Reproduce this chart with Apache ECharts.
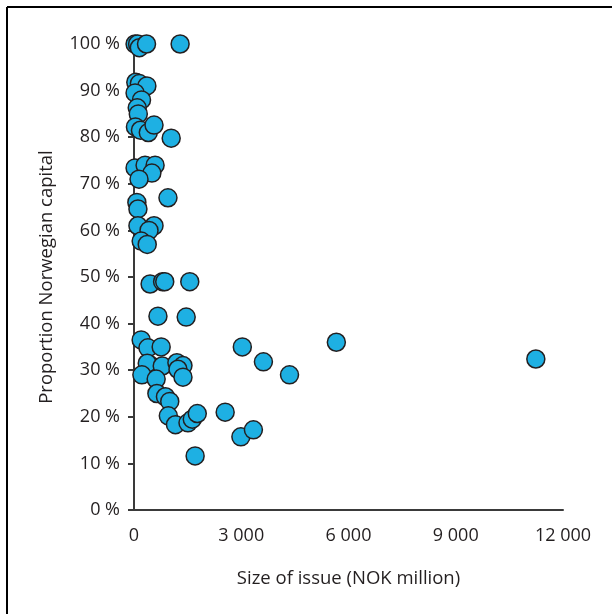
<!DOCTYPE html>
<html>
<head>
<meta charset="utf-8">
<script src="https://cdn.jsdelivr.net/npm/echarts@6/dist/echarts.min.js"></script>
<style>html,body{margin:0;padding:0;background:#fff;overflow:hidden;}#c{width:612px;height:614px;}</style>
</head>
<body>
<div id="c"></div>
<script>
// Size of issue (NOK million)
const issueSize = [
  30, 100, 150, 350, 1290,
  50, 150, 360, 30, 210, 90, 120, 40, 180, 400, 560, 1040,
  30, 310, 590, 500, 140, 950, 80, 110, 110, 560, 420, 200, 370,
  450, 800, 860, 1560,
  670, 1460,
  200, 390, 760, 3030, 450, 370, 790, 220, 1200, 1370, 1230, 1370, 620, 5660, 11240, 3620, 4350,
  640, 880, 1000, 960, 1160, 1510, 1630, 1770, 2550, 1710, 2990, 3340
];
// Proportion Norwegian capital (%)
const norwegianShare = [
  100, 100, 99.2, 100, 100,
  91.8, 91.5, 91, 89.5, 88, 86.3, 85, 82.2, 81.5, 81, 82.6, 79.8,
  73.4, 74, 74, 72.3, 71, 67, 66, 64.6, 61, 61, 60, 57.7, 57,
  48.5, 49, 49, 49,
  41.6, 41.4,
  36.5, 34.8, 35, 35, 31.1, 31.5, 30.9, 29, 31.6, 31, 30.2, 28.5, 28.1, 36, 32.4, 31.8, 29,
  25, 24.3, 23.3, 20.2, 18.3, 18.7, 19.5, 20.7, 21, 11.6, 15.7, 17.2
];
const xTicks = [0, 3000, 6000, 9000, 12000];
const yTicks = [0, 10, 20, 30, 40, 50, 60, 70, 80, 90, 100];

const points = issueSize.map((v, i) => [v, norwegianShare[i]]);
const fmtThousands = v => String(v).replace(/\B(?=(\d{3})+(?!\d))/g, ' ');
const FONT = '"Open Sans", sans-serif';
const INK = '#231f20';

const chart = echarts.init(document.getElementById('c'), null, {renderer: 'canvas'});
chart.setOption({
  animation: false,
  backgroundColor: '#fff',
  grid: {left: 134, right: 49, top: 44, bottom: 104},
  graphic: [
    {type: 'line', silent: true, shape: {x1: 7, y1: 7, x2: 640, y2: 7}, style: {stroke: '#000', lineWidth: 2}},
    {type: 'line', silent: true, shape: {x1: 7, y1: 7, x2: 7, y2: 640}, style: {stroke: '#000', lineWidth: 2}}
  ],
  xAxis: {
    type: 'value', min: xTicks[0], max: xTicks[xTicks.length - 1], interval: 3000,
    name: 'Size of issue (NOK million)', nameLocation: 'middle', nameGap: 59,
    nameTextStyle: {fontFamily: FONT, fontSize: 18.5, color: INK},
    axisLine: {show: true, lineStyle: {color: '#3a3a3a', width: 2}},
    axisTick: {show: false},
    splitLine: {show: false},
    axisLabel: {fontFamily: FONT, fontSize: 18, color: INK, margin: 17, formatter: v => fmtThousands(v)}
  },
  yAxis: {
    type: 'value', min: yTicks[0], max: yTicks[yTicks.length - 1], interval: 10,
    name: 'Proportion Norwegian capital', nameLocation: 'middle', nameGap: 78,
    nameTextStyle: {fontFamily: FONT, fontSize: 18.5, color: INK},
    axisLine: {show: true, lineStyle: {color: '#3a3a3a', width: 2}},
    axisTick: {show: true, length: 6, lineStyle: {color: '#3a3a3a', width: 2}},
    splitLine: {show: false},
    axisLabel: {fontFamily: FONT, fontSize: 18, color: INK, margin: 14, formatter: '{value} %'}
  },
  series: [{
    type: 'scatter',
    data: points,
    symbol: 'circle',
    symbolSize: 18,
    itemStyle: {color: '#1eb0e3', borderColor: '#231f20', borderWidth: 1.5, opacity: 1}
  }]
});
</script>
</body>
</html>
